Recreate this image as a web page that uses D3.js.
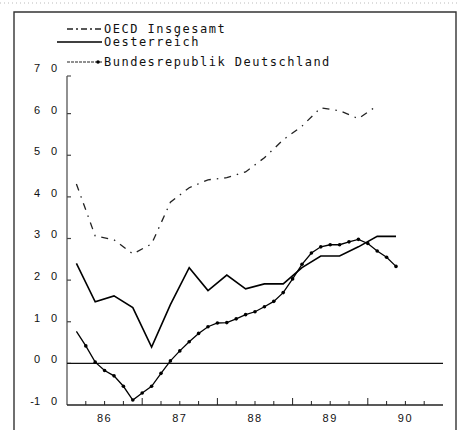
<!DOCTYPE html>
<html><head><meta charset="utf-8">
<script src="https://cdn.jsdelivr.net/npm/d3@7"></script>
<style>
html,body{margin:0;padding:0;background:#fff;}
svg{display:block;font-family:"Liberation Sans",Arial,sans-serif;}
</style></head>
<body><svg id="c" width="457" height="430"></svg>
<script>
// ---- data ----
const years = [1986, 1987, 1988, 1989, 1990];
const yearLabels = ["86", "87", "88", "89", "90"];
const yTicks = [-1, 0, 1, 2, 3, 4, 5, 6, 7];
const seriesNames = ["OECD Insgesamt", "Oesterreich", "Bundesrepublik Deutschland"];
// quarterly values (mid-quarter), starting 1986 Q1
const oecd = [4.31, 3.06, 2.97, 2.63, 2.87, 3.87, 4.22, 4.41, 4.46, 4.6, 4.94, 5.37, 5.7, 6.14, 6.07, 5.88, 6.19];
const austria = [2.4, 1.48, 1.62, 1.34, 0.39, 1.41, 2.3, 1.75, 2.12, 1.79, 1.91, 1.91, 2.3, 2.58, 2.58, 2.8, 3.05, 3.05];
// half-quarter values, starting 1986.125
const germany = [0.77, 0.42, 0.03, -0.17, -0.3, -0.55, -0.88, -0.71, -0.55, -0.24, 0.06, 0.3, 0.52, 0.72, 0.88, 0.97, 0.98, 1.07, 1.17, 1.24, 1.36, 1.49, 1.7, 2.03, 2.38, 2.65, 2.8, 2.85, 2.85, 2.92, 2.98, 2.88, 2.7, 2.55, 2.33];

const svg = d3.select("#c");
const x = d3.scaleLinear().domain([1986, 1991]).range([67, 443]);
const y = d3.scaleLinear().domain([-1, 7]).range([405, 72]);
const mono = "'DejaVu Sans Mono','Liberation Mono',monospace";

// scan noise strip & frame
svg.append("line").attr("x1",0).attr("x2",457).attr("y1",3).attr("y2",3)
  .attr("stroke","#bbb").attr("stroke-dasharray","1,3");
svg.append("path").attr("d","M14,432V12H456V432").attr("fill","none").attr("stroke","#333").attr("stroke-width",1.4);

// y axis
svg.append("line").attr("x1",x(1986)).attr("x2",x(1986)).attr("y1",y(7)+4).attr("y2",y(-1))
  .attr("stroke","#555").attr("stroke-width",1.3);
svg.append("line").attr("x1",x(1986)).attr("x2",x(1986)+4).attr("y1",y(7)+4).attr("y2",y(7)+4)
  .attr("stroke","#555").attr("stroke-width",1.2);
const yt = svg.append("g").selectAll("g").data(yTicks).enter().append("g");
yt.filter(d=>d>-1 && d<7).append("line").attr("x1",x(1986)).attr("x2",x(1986)+4)
  .attr("y1",d=>y(d)).attr("y2",d=>y(d)).attr("stroke","#444").attr("stroke-width",1.2);
yt.append("text").attr("x",40).attr("y",d=>y(d)-3).attr("text-anchor","end")
  .attr("dominant-baseline","middle").attr("font-size",11).attr("fill","#111")
  .text(d=>d<0 ? "-"+Math.abs(d) : String(d));
yt.append("text").attr("x",54).attr("y",d=>y(d)-3).attr("text-anchor","middle")
  .attr("dominant-baseline","middle").attr("font-size",11).attr("fill","#111").text("0");

// x axis
svg.append("line").attr("x1",x(1986)).attr("x2",x(1991)).attr("y1",y(-1)).attr("y2",y(-1))
  .attr("stroke","#222").attr("stroke-width",1.3);
const qt = d3.range(1986.25, 1991, 0.25);
svg.append("g").selectAll("line").data(qt).enter().append("line")
  .attr("x1",d=>x(d)).attr("x2",d=>x(d)).attr("y1",y(-1))
  .attr("y2",d=>y(-1)-(Math.abs(d-Math.round(d))<1e-6?7:4))
  .attr("stroke","#222").attr("stroke-width",1);
svg.append("g").selectAll("text").data(years).enter().append("text")
  .attr("x",d=>x(d+0.5)).attr("y",419).attr("text-anchor","middle").attr("dominant-baseline","middle")
  .attr("font-size",11).attr("letter-spacing","1.5px").attr("fill","#111")
  .text((d,i)=>yearLabels[i]);

// zero line
svg.append("line").attr("x1",x(1986)).attr("x2",x(1991)).attr("y1",y(0)).attr("y2",y(0))
  .attr("stroke","#111").attr("stroke-width",1.3);

// series
const line = d3.line().x(d=>x(d[0])).y(d=>y(d[1]));
const oecdPts = oecd.map((v,i)=>[1986.125+i*0.25, v]);
const ausPts = austria.map((v,i)=>[1986.125+i*0.25, v]);
const gerPts = germany.map((v,i)=>[1986.125+i*0.125, v]);

svg.append("path").attr("d",line(oecdPts)).attr("fill","none").attr("stroke","#222")
  .attr("stroke-width",1.3).attr("stroke-dasharray","7,6,1.5,6");
svg.append("path").attr("d",line(ausPts)).attr("fill","none").attr("stroke","#000")
  .attr("stroke-width",1.6).attr("stroke-linejoin","miter");
svg.append("path").attr("d",line(gerPts)).attr("fill","none").attr("stroke","#000")
  .attr("stroke-width",1.3);
svg.append("g").selectAll("circle").data(gerPts.filter((d,i)=>i>0)).enter().append("circle")
  .attr("cx",d=>x(d[0])).attr("cy",d=>y(d[1])).attr("r",1.8).attr("fill","#000");

// legend
const legY = [29, 42, 62];
const lg = svg.append("g");
lg.append("line").attr("x1",67).attr("x2",102).attr("y1",legY[0]).attr("y2",legY[0])
  .attr("stroke","#222").attr("stroke-width",1.3).attr("stroke-dasharray","6,3,2,3");
lg.append("line").attr("x1",57).attr("x2",102).attr("y1",legY[1]).attr("y2",legY[1])
  .attr("stroke","#000").attr("stroke-width",1.6);
lg.append("line").attr("x1",67).attr("x2",103).attr("y1",legY[2]).attr("y2",legY[2])
  .attr("stroke","#222").attr("stroke-width",1.1).attr("stroke-dasharray","3,1");
lg.append("circle").attr("cx",98).attr("cy",legY[2]).attr("r",1.8).attr("fill","#000");
lg.selectAll("text").data(seriesNames).enter().append("text")
  .attr("x",104).attr("y",(d,i)=>legY[i]).attr("dominant-baseline","middle")
  .attr("font-family",mono).attr("font-size",12).attr("letter-spacing","1.5px")
  .attr("fill","#111").text(d=>d);
</script></body></html>
